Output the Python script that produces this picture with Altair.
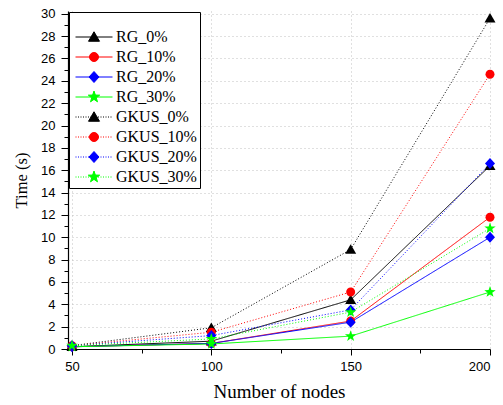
import altair as alt
import pandas as pd

# ---- data ----
nodes = [50, 100, 150, 200]
series_names = ["RG_0%", "RG_10%", "RG_20%", "RG_30%",
                "GKUS_0%", "GKUS_10%", "GKUS_20%", "GKUS_30%"]
rg_0 = [0.2, 0.7, 4.4, 16.4]
rg_10 = [0.2, 0.5, 2.5, 11.8]
rg_20 = [0.2, 0.5, 2.4, 10.0]
rg_30 = [0.2, 0.45, 1.15, 5.1]
gkus_0 = [0.3, 1.9, 8.9, 29.6]
gkus_10 = [0.3, 1.5, 5.1, 24.6]
gkus_20 = [0.3, 1.2, 3.5, 16.6]
gkus_30 = [0.3, 0.9, 3.3, 10.8]
all_values = [rg_0, rg_10, rg_20, rg_30, gkus_0, gkus_10, gkus_20, gkus_30]

y_ticks = list(range(0, 31))
x_ticks = [50, 75, 100, 125, 150, 175, 200]

# ---- styles ----
colors = ["#000000", "#ff0000", "#0000ff", "#00ff00"] * 2
dashes = [[1, 0]] * 4 + [[1, 2]] * 4

tri = [(0, -1.05), (1.1, 0.85), (-1.1, 0.85)]
dia = [(0, -1.1), (1.0, 0), (0, 1.1), (-1.0, 0)]
star = [(0, -1.2), (0.28, -0.39), (1.14, -0.37), (0.45, 0.15), (0.70, 0.97),
        (0, 0.48), (-0.70, 0.97), (-0.45, 0.15), (-1.14, -0.37), (-0.28, -0.39)]


def poly(pts, s=1.0):
    return "M" + "L".join(f"{x*s:.3f},{y*s:.3f}" for x, y in pts) + "Z"


def circ(r):
    return (f"M{-r:.3f},0A{r:.3f},{r:.3f} 0 1,0 {r:.3f},0"
            f"A{r:.3f},{r:.3f} 0 1,0 {-r:.3f},0Z")


marker_base = [lambda s: poly(tri, s), lambda s: circ(0.9 * s),
               lambda s: poly(dia, s), lambda s: poly(star, s)]
marker_paths = [m(1.0) for m in marker_base] * 2

L = 3.7  # half length of legend line in symbol units


def solid_line():
    return f"M{-L},0L{L},0"


def dotted_line():
    out = []
    x = -L
    while x < L:
        out.append(f"M{x:.3f},0h0.2")
        x += 0.5
    return "".join(out)


legend_paths = ([solid_line() + m(1.0) for m in marker_base] +
                [dotted_line() + m(1.0) for m in marker_base])

rows = []
for name, vals in zip(series_names, all_values):
    for n, v in zip(nodes, vals):
        rows.append({"nodes": n, "time": v, "series": name})
df = pd.DataFrame(rows)

x_scale = alt.Scale(domain=[48.57, 200], nice=False, zero=False)
y_scale = alt.Scale(domain=[0, 30.25], nice=False)

x_axis = alt.Axis(
    values=x_ticks, title="Number of nodes", labelOverlap=False,
    labelExpr="datum.value % 50 === 0 ? datum.label : ''",
    tickSize={"condition": {"test": "datum.value % 50 === 0", "value": 6}, "value": 4},
    gridOpacity={"condition": {"test": "datum.value % 50 === 0", "value": 1}, "value": 0},
    labelPadding=5, titlePadding=9, titleFont="Liberation Serif",
    titleFontSize=19, titleFontWeight="normal",
)
y_axis = alt.Axis(
    values=y_ticks, title="Time (s)", labelOverlap=False,
    labelExpr="datum.value % 2 === 0 ? datum.label : ''",
    tickSize={"condition": {"test": "datum.value % 2 === 0", "value": 7}, "value": 4},
    gridOpacity={"condition": {"test": "datum.value % 2 === 0", "value": 1}, "value": 0},
    labelPadding=6, titlePadding=11, titleFont="Liberation Serif",
    titleFontSize=16.5, titleFontWeight="normal",
)

color_enc = alt.Color("series:N", sort=series_names,
                      scale=alt.Scale(domain=series_names, range=colors), legend=None)

lines = alt.Chart(df).mark_line(strokeWidth=1).encode(
    x=alt.X("nodes:Q", scale=x_scale, axis=x_axis),
    y=alt.Y("time:Q", scale=y_scale, axis=y_axis),
    color=color_enc,
    strokeDash=alt.StrokeDash("series:N", sort=series_names,
                              scale=alt.Scale(domain=series_names, range=dashes),
                              legend=None),
    order=alt.Order("nodes:Q"),
)

points = alt.Chart(df).mark_point(filled=True, opacity=1, size=100, strokeWidth=0).encode(
    x=alt.X("nodes:Q", scale=x_scale, axis=x_axis),
    y=alt.Y("time:Q", scale=y_scale, axis=y_axis),
    color=color_enc,
    shape=alt.Shape("series:N", sort=series_names,
                    scale=alt.Scale(domain=series_names, range=marker_paths),
                    legend=None),
)

lab_expr = "datum.label + '\u00a0\u00a0\u00a0\u00a0\u00a0\u00a0\u00a0\u00a0'"
legend_layer = alt.Chart(df).transform_filter("false").mark_point(
    filled=True, opacity=1, size=100, strokeWidth=1
).encode(
    fill=alt.Fill("series:N", sort=series_names,
                  scale=alt.Scale(domain=series_names, range=colors),
                  legend=alt.Legend(title=" ", labelExpr=lab_expr)),
    stroke=alt.Stroke("series:N", sort=series_names,
                      scale=alt.Scale(domain=series_names, range=colors),
                      legend=alt.Legend(title=" ", labelExpr=lab_expr)),
    shape=alt.Shape("series:N", sort=series_names,
                    scale=alt.Scale(domain=series_names, range=legend_paths),
                    legend=alt.Legend(title=" ", labelExpr=lab_expr)),
)

chart = alt.layer(lines, points, legend_layer).resolve_scale(
    shape="independent", fill="independent", stroke="independent"
).properties(
    width=422, height=338,
    autosize=alt.AutoSizeParams(type="none"),
    padding={"left": 68, "top": 11, "right": 13, "bottom": 56},
).configure_view(stroke=None).configure_axis(
    domainColor="#000000", domainWidth=1.2, tickColor="#000000", tickWidth=1,
    labelFont="Liberation Sans", labelFontSize=13, labelColor="#000000",
    titleColor="#000000", gridColor="#c0c0c0", gridDash=[1, 3], gridWidth=1,
    labelOverlap=False,
).configure_legend(
    orient="none", legendX=1, legendY=1,
    strokeColor="#000000", fillColor="#ffffff", padding=3,
    titleFontSize=10, titlePadding=4,
    labelFont="Liberation Serif", labelFontSize=16, labelColor="#000000",
    symbolSize=100, symbolStrokeWidth=1, symbolOffset=14, labelOffset=14,
    rowPadding=4, symbolType="circle", labelLimit=300,
)

chart.save("out.html", embed_options={"renderer": "svg", "actions": False})
